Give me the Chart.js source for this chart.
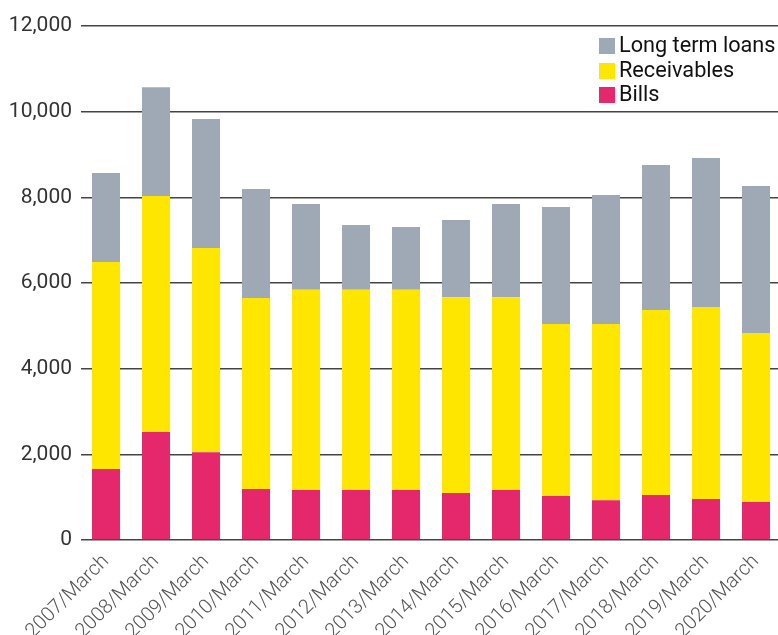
<!DOCTYPE html>
<html>
<head>
<meta charset="utf-8">
<script src="https://cdn.jsdelivr.net/npm/chart.js@4.4.0/dist/chart.umd.min.js"></script>
<style>
  html, body { margin: 0; padding: 0; background: #fff; overflow: hidden; }
  #wrap { position: relative; width: 778px; height: 635px; overflow: hidden; }
  #legend { position: absolute; left: 599px; top: 33px; font-family: Roboto, sans-serif; font-size: 21.7px; color: #111; }
  #legend div { height: 24.5px; line-height: 24.5px; white-space: nowrap; }
  #legend span { display: inline-block; width: 16px; height: 16px; margin-right: 4px; vertical-align: -2px; }
</style>
</head>
<body>
<div id="wrap">
  <canvas id="myChart" width="781" height="635"></canvas>
  <div id="legend"></div>
</div>
<script>
const categories = ["2007/March", "2008/March", "2009/March", "2010/March", "2011/March", "2012/March", "2013/March",
  "2014/March", "2015/March", "2016/March", "2017/March", "2018/March", "2019/March", "2020/March"];
const bills = [1660, 2520, 2050, 1190, 1170, 1170, 1170, 1100, 1170, 1030, 930, 1050, 960, 890];
const receivables = [4830, 5510, 4770, 4460, 4670, 4670, 4670, 4570, 4500, 4010, 4110, 4320, 4480, 3940];
const longTermLoans = [2080, 2540, 3010, 2545, 2005, 1515, 1470, 1800, 2175, 2735, 3015, 3385, 3480, 3435];
const yTicks = [0, 2000, 4000, 6000, 8000, 10000, 12000];

const colors = { bills: "#e4286b", receivables: "#ffe600", loans: "#9fa8b5" };

const ctx = document.getElementById("myChart").getContext("2d");
const chart = new Chart(ctx, {
  type: "bar",
  data: {
    labels: categories,
    datasets: [
      { label: "Bills", data: bills, backgroundColor: colors.bills },
      { label: "Receivables", data: receivables, backgroundColor: colors.receivables },
      { label: "Long term loans", data: longTermLoans, backgroundColor: colors.loans },
    ],
  },
  options: {
    responsive: false,
    animation: false,
    locale: "en-US",
    layout: { padding: { top: 26, right: 0, bottom: 0, left: 0 } },
    datasets: { bar: { categoryPercentage: 1, barPercentage: 0.56 } },
    plugins: { legend: { display: false }, tooltip: { enabled: false } },
    scales: {
      x: {
        stacked: true,
        grid: { display: false },
        border: { display: false },
        ticks: {
          minRotation: 45, maxRotation: 45, padding: 2,
          color: "#555", font: { family: "Roboto", size: 20, weight: 300 },
        },
        afterFit: (axis) => { axis.height = 95; },
      },
      y: {
        stacked: true,
        min: 0,
        max: 12000,
        afterBuildTicks: (axis) => { axis.ticks = yTicks.map((v) => ({ value: v })); },
        grid: { color: "#444", lineWidth: 1.5, drawTicks: false },
        border: { display: false },
        ticks: {
          padding: 9,
          color: "#333", font: { family: "Roboto", size: 21 },
          callback: (v) => v.toLocaleString("en-US"),
        },
        afterFit: (axis) => { axis.width = 81; },
      },
    },
  },
});

// legend, top item first (reverse of stacking order)
const legend = document.getElementById("legend");
chart.data.datasets.slice().reverse().forEach((ds) => {
  const row = document.createElement("div");
  const box = document.createElement("span");
  box.style.background = ds.backgroundColor;
  row.appendChild(box);
  row.appendChild(document.createTextNode(ds.label));
  legend.appendChild(row);
});
</script>
</body>
</html>
